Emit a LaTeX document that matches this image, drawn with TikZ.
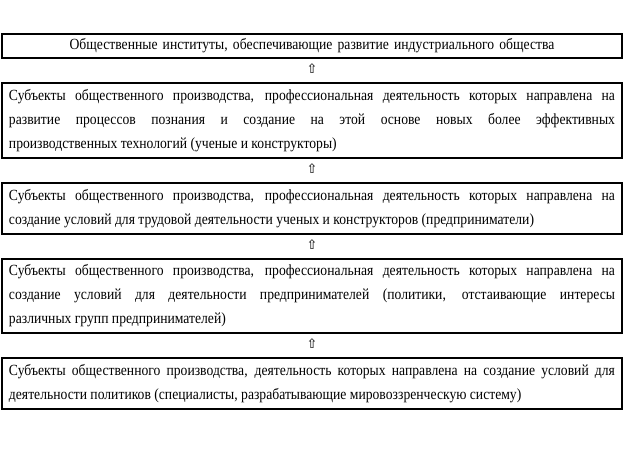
\documentclass[tikz,border=0pt]{standalone}
\usepackage{fontspec}
\setmainfont{Liberation Serif}[FakeStretch=0.88]
\newfontfamily\arrowfont{DejaVu Sans}
\usetikzlibrary{positioning,calc}
\tikzset{
    level/.style={draw=black, line width=1.8pt, anchor=north, minimum width=620pt,
        text width=606pt, inner xsep=7pt, inner ysep=0pt, align=justify,
        font=\fontsize{15.5}{24}\selectfont},
    uparrow/.style={font=\arrowfont\fontsize{13}{13}\selectfont, inner sep=0pt, yshift=2pt}
}
\hyphenpenalty=10000
\exhyphenpenalty=10000

\begin{document}
\begin{tikzpicture}[x=1pt, y=-1pt]
                \useasboundingbox (0,0) rectangle (625,452);

                % levels, top to bottom
                \node[level, align=center, minimum height=24pt] (inst) at (312,33)
                    {Общественные институты, обеспечивающие развитие индустриального общества};
                \node[level, minimum height=75pt] (sci) at (312,82)
                    {Субъекты общественного производства, профессиональная деятельность которых направлена на\linebreak
                    развитие процессов познания и создание на этой основе новых более эффективных\linebreak
                    производственных технологий (ученые и конструкторы)};
                \node[level, minimum height=51pt] (entr) at (312,182)
                    {Субъекты общественного производства, профессиональная деятельность которых направлена на\linebreak
                    создание условий для трудовой деятельности ученых и конструкторов (предприниматели)};
                \node[level, minimum height=74pt] (pol) at (312,258)
                    {Субъекты общественного производства, профессиональная деятельность которых направлена на\linebreak
                    создание условий для деятельности предпринимателей (политики, отстаивающие интересы\linebreak
                    различных групп предпринимателей)};
                \node[level, minimum height=51pt] (spec) at (312,357)
                    {Субъекты общественного производства, деятельность которых направлена на создание условий для\linebreak
                    деятельности политиков (специалисты, разрабатывающие мировоззренческую систему)};

                % arrows between levels
                \foreach \a/\b/\n in {inst/sci/1, sci/entr/2, entr/pol/3, pol/spec/4}
                {
                \path (\a.south) -- (\b.north) node[midway, uparrow] (up\n) {⇧};
                }
            \end{tikzpicture}
\end{document}
